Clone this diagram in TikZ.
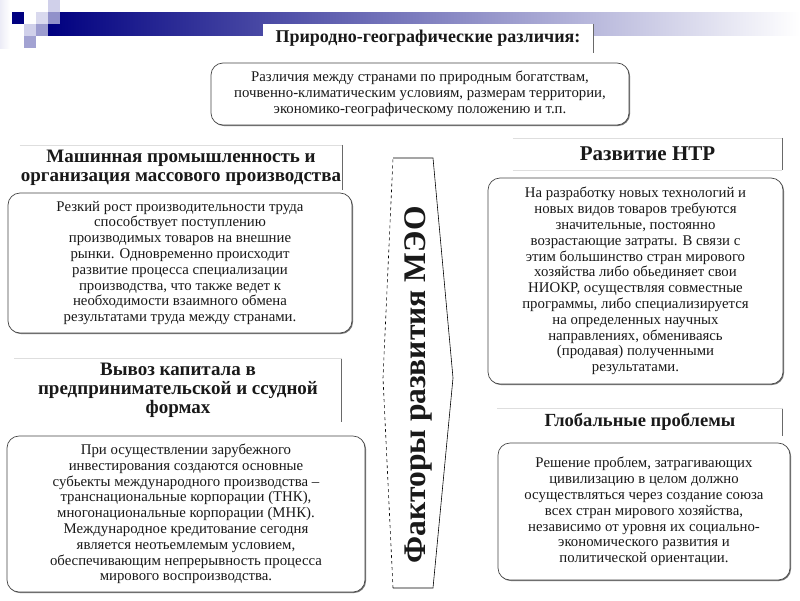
\documentclass[tikz,border=0pt]{standalone}
\usepackage{fontspec}
\setmainfont{Liberation Serif}
\usetikzlibrary{shadows}
\definecolor{Navy}{RGB}{0,0,128}
\definecolor{LightLav}{RGB}{208,208,234}
\definecolor{MidLav}{RGB}{145,145,202}
\definecolor{InkGray}{RGB}{25,25,25}
\definecolor{EdgeGray}{RGB}{70,70,70}
\definecolor{LineGray}{RGB}{105,105,105}
\definecolor{FaintGray}{RGB}{222,222,222}
\tikzset{
  hdr/.style   ={rectangle, fill=white, text=InkGray, align=center,
                 font=\fontsize{19}{19}\selectfont\bfseries, inner sep=0pt},
  rbox/.style  ={rectangle, rounded corners=12pt, draw=EdgeGray, line width=.7pt,
                 fill=white, text=InkGray, align=center,
                 font=\fontsize{14.8}{15.8}\selectfont, inner sep=0pt,
                 drop shadow={shadow xshift=1pt, shadow yshift=-1pt, fill=black!55, opacity=1}},
  hline/.style ={draw=LineGray, line width=.8pt},
  tline/.style ={draw=FaintGray, line width=.6pt},
  sq/.style    ={fill=#1, draw=none},
  facside/.style={draw=black, line width=.6pt},
}

\begin{document}
\begin{tikzpicture}[x=1pt,y=-1pt]
  \useasboundingbox (0,0) rectangle (800,600);
  \fill[white] (0,0) rectangle (800,600);

  \shade[left color=LightLav!40, right color=white] (0,0) rectangle (10,48);
  \shade[left color=Navy, right color=white] (48,12) rectangle (800,35);
  \foreach \x/\y/\c in {48/0/LightLav, 12/12/Navy, 36/12/LightLav!80, 48/12/MidLav,
                        24/24/LightLav, 36/24/MidLav!90, 24/36/MidLav!85}
    {\fill[sq=\c] (\x,\y) rectangle ++(12,12);}

  \node[hdr,font=\fontsize{18}{18}\selectfont\bfseries,minimum width=330pt,minimum height=29pt] (h0) at (428,38.5) {Природно-географические различия:};
  \node[rbox,minimum width=418pt,minimum height=62pt] (b0) at (420,94)
    {Различия между странами по природным богатствам,\\
     почвенно-климатическим условиям, размерам территории,\\
     экономико-географическому положению и т.п.};

  \node[hdr,minimum width=322pt,minimum height=45pt] (h1) at (181,167.5)
    {Машинная промышленность и\\организация массового производства};
  \node[rbox,minimum width=344pt,minimum height=140pt] (b1) at (180,263)
    {Резкий рост производительности труда\\
     способствует поступлению\\
     производимых товаров на внешние\\
     рынки. Одновременно происходит\\
     развитие процесса специализации\\
     производства, что также ведет к\\
     необходимости взаимного обмена\\
     результатами труда между странами.};

  \node[hdr,font=\fontsize{21}{21}\selectfont\bfseries,minimum width=269pt,minimum height=32pt] (h2) at (647.5,154) {Развитие НТР};
  \node[rbox,minimum width=295pt,minimum height=206pt] (b2) at (635.5,281)
    {На разработку новых технологий и\\
     новых видов товаров требуются\\
     значительные, постоянно\\
     возрастающие затраты. В связи с\\
     этим большинство стран мирового\\
     хозяйства либо обьединяет свои\\
     НИОКР, осуществляя совместные\\
     программы, либо специализируется\\
     на определенных научных\\
     направлениях, обмениваясь\\
     (продавая) полученными\\
     результатами.};

  \node[hdr,minimum width=327pt,minimum height=64pt] (h3) at (178,390)
    {Вывоз капитала в\\предпринимательской и ссудной\\формах};
  \node[rbox,minimum width=358pt,minimum height=156pt] (b3) at (186,514)
    {При осуществлении зарубежного\\
     инвестирования создаются основные\\
     субьекты международного производства –\\
     транснациональные корпорации (ТНК),\\
     многонациональные корпорации (МНК).\\
     Международное кредитование сегодня\\
     является неотьемлемым условием,\\
     обеспечивающим непрерывность процесса\\
     мирового воспроизводства.};

  \node[hdr,font=\fontsize{18.5}{18.5}\selectfont\bfseries,minimum width=285pt,minimum height=28pt] (h4) at (640,422) {Глобальные проблемы};
  \node[rbox,minimum width=292pt,minimum height=137pt] (b4) at (644,511.5)
    {Решение проблем, затрагивающих\\
     цивилизацию в целом должно\\
     осуществляться через создание союза\\
     всех стран мирового хозяйства,\\
     независимо от уровня их социально-\\
     экономического развития и\\
     политической ориентации.};

  \foreach \h in {h0,h1,h2,h3,h4}{\draw[hline] (\h.north east) -- (\h.south east);}
  \foreach \h in {h1,h2,h3,h4}{\draw[tline] (\h.north west) -- (\h.north east);}
  \draw[tline] (h2.south west) -- (h2.south east);

  \coordinate (tl) at (393,158);
  \coordinate (tr) at (433,158);
  \coordinate (mr) at (453,378);
  \coordinate (br) at (433,588);
  \coordinate (bl) at (393,588);
  \coordinate (ml) at (383,378);
  \draw[facside] (tl) -- (tr) -- (mr) -- (br) -- (bl);
  \draw[facside,dashed] (bl) -- (ml) -- (tl);
  \node[rotate=90,text=InkGray,font=\fontsize{31.5}{34}\selectfont\bfseries] (fac) at (418,385) {Факторы развития МЭО};
\end{tikzpicture}
\end{document}
